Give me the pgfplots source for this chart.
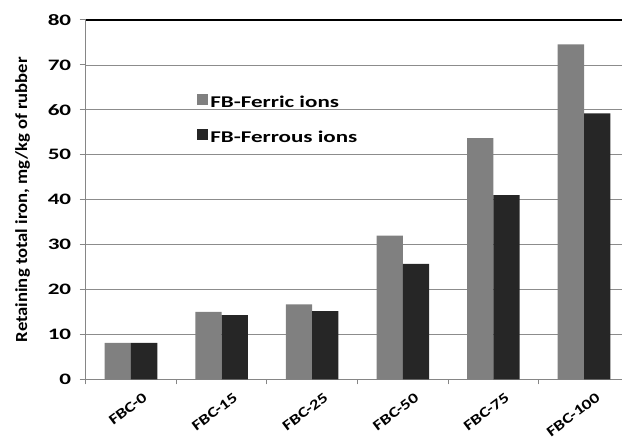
\documentclass[border=0pt]{standalone}
\usepackage{fontspec}
\setmainfont[FakeStretch=1.25]{Carlito}
\newfontfamily\ylfont[FakeStretch=1.1]{Carlito}
\newfontfamily\tickfont[FakeStretch=1.45]{Carlito}
\newfontfamily\xtfont[FakeStretch=1.3]{Carlito}
\newfontfamily\legfont[FakeStretch=1.4]{Carlito}
\usepackage{pgfplots}
\pgfplotsset{compat=1.18}
\definecolor{ferric}{HTML}{808080}
\definecolor{ferrous}{HTML}{262626}
\definecolor{axgrey}{HTML}{868686}
\definecolor{gridgrey}{HTML}{8C8C8C}
\begin{document}
\begin{tikzpicture}
\begin{axis}[
  scale only axis,
  width=543.6bp, height=359.3bp,
  ymin=0, ymax=80, ytick={0,10,...,70},
  extra y ticks={80}, extra y tick style={grid style={black, line width=1.1bp}},
  xmin=-0.5, xmax=5.5,
  xtick={0,...,5},
  xticklabels={FBC-0,FBC-15,FBC-25,FBC-50,FBC-75,FBC-100},
  minor xtick={-0.5,0.5,...,5.5},
  major x tick style={draw=none},
  minor x tick style={axgrey, line width=1bp},
  minor tick length=5bp,
  major tick length=6bp,
  ytick style={axgrey, line width=1bp},
  tick align=outside,
  axis x line*=bottom, axis y line*=left,
  axis line style={axgrey, line width=1.4bp, -},
  ymajorgrids, grid style={gridgrey, line width=0.8bp},
  /pgf/number format/assume math mode=true,
  yticklabel style={font=\tickfont\fontsize{16}{18}\selectfont\bfseries, xshift=-5bp},
  xticklabel style={font=\xtfont\fontsize{14.5}{16}\selectfont\bfseries, rotate=37, anchor=north east, inner sep=1bp, xshift=6bp, yshift=-11bp},
  ylabel={Retaining total iron, mg/kg of rubber},
  ylabel style={font=\ylfont\fontsize{17}{19}\selectfont\bfseries, yshift=-1bp},
  ybar=0pt, bar width=0.29,
  legend style={at={(0.205,0.795)}, anchor=north west, draw=none, fill=none,
    inner sep=0pt,
    font=\legfont\fontsize{16.5}{18}\selectfont\bfseries, row sep=16bp,
    nodes={text height=12bp, text depth=3bp, inner sep=2bp},
    /tikz/every even column/.append style={column sep=2.5bp}},
  legend cell align=left,
  legend image code/.code={\fill[#1] (0bp,-1.5bp) rectangle (11bp,9.5bp);},
]
\addplot[fill=ferric, draw=none] coordinates {(0,8.1) (1,15.0) (2,16.7) (3,32.0) (4,53.7) (5,74.6)};
\addplot[fill=ferrous, draw=none] coordinates {(0,8.1) (1,14.3) (2,15.2) (3,25.7) (4,41.0) (5,59.2)};
\legend{FB-Ferric ions, FB-Ferrous ions}
\end{axis}
\pgfresetboundingbox
\path ([xshift=-85.7bp,yshift=-63.7bp]current axis.south west) rectangle ([xshift=-7.3bp,yshift=20bp]current axis.north east);
\end{tikzpicture}
\end{document}
